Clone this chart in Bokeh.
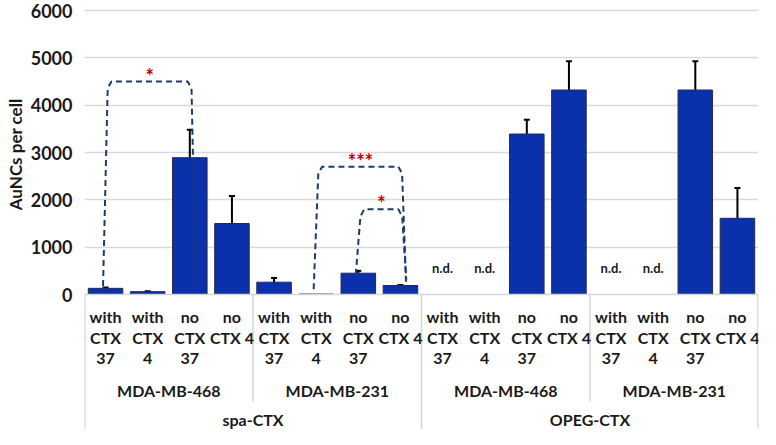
from bokeh.plotting import figure
from bokeh.models import ColumnDataSource, FixedTicker, Whisker, TeeHead, Range1d, Title
from bokeh.core.properties import value
from bokeh.embed import file_html
from bokeh.resources import INLINE

# ---------------- data ----------------
groups = ["spa-CTX", "OPEG-CTX"]
cell_lines = ["MDA-MB-468", "MDA-MB-231"]
conditions = [["with", "CTX", "37"], ["with", "CTX", "4"], ["no", "CTX", "37"], ["no", "CTX 4"]]

# AuNCs per cell, order: group > cell line > condition (None = n.d.)
means = [130, 60, 2890, 1500,
         260, 10, 450, 190,
         None, None, 3390, 4320,
         None, None, 4320, 1610]
errors = [20, 10, 590, 580,
          90, 0, 50, 10,
          None, None, 300, 610,
          None, None, 610, 640]

y_ticks = [0, 1000, 2000, 3000, 4000, 5000, 6000]

# significance brackets: (bar a, bar b, top height, bottom left, bottom right, label)
brackets = [(0, 2, 4500, 180, 200, "*"),
            (5, 7, 2700, 110, 60, "***"),
            (6, 7, 1800, 416, 313, "*")]

# ---------------- layout ----------------
W, H = 760, 429
n = len(means)
px_6000 = 10             # px below frame top of the 6000 line
px_zero = 294            # px below frame top of the 0 line
scale = (px_zero - px_6000) / 6000.0   # px per unit
y_max = 6000 + px_6000 / scale
y_min = -(H - px_zero) / scale

def below(px):
    return -px / scale

FONT = value("Lato")
TXT = "#1a1a1a"
BAR = "#0A30AC"
GRID = "#d9d9d9"
TABLE = "#cfd6dc"
NAVY = "#1F3A6E"
RED = "#C00000"

p = figure(width=W, height=H, output_backend="svg", toolbar_location=None,
           x_range=Range1d(0, n), y_range=Range1d(y_min, y_max),
           x_axis_location=None, min_border_left=10, min_border_right=2,
           min_border_top=0, min_border_bottom=0)
p.outline_line_color = None
p.xgrid.visible = False
p.ygrid.ticker = FixedTicker(ticks=y_ticks[1:])
p.ygrid.grid_line_color = GRID
p.ygrid.grid_line_width = 1.5

ya = p.yaxis[0]
ya.ticker = FixedTicker(ticks=y_ticks)
ya.axis_line_color = None
ya.major_tick_line_color = None
ya.minor_tick_line_color = None
ya.major_tick_out = 0
ya.major_tick_in = 0
ya.minor_tick_out = 0
ya.minor_tick_in = 0
ya.major_label_text_font = "Lato"
ya.major_label_text_font_style = "bold"
ya.major_label_text_font_size = "18px"
ya.major_label_text_color = TXT
ya.major_label_standoff = 12

# y-axis title, anchored from the top so it sits beside the 0..6000 span
ytitle = Title(text="AuNCs per cell", align="right", offset=98,
               text_font="Lato", text_font_style="bold", text_font_size="17px",
               text_color=TXT, standoff=4)
p.add_layout(ytitle, "left")

# ---------------- bars ----------------
xs = [i + 0.5 for i in range(n)]
bx = [x for x, m in zip(xs, means) if m is not None]
bt = [m for m in means if m is not None]
src = ColumnDataSource(dict(x=bx, top=bt))
p.vbar(x="x", top="top", bottom=0, width=0.82, source=src,
       fill_color=BAR, line_color="#2b2b3a", line_width=1)

ex, eu, el = [], [], []
for x, m, e in zip(xs, means, errors):
    if m is not None and e:
        ex.append(x); eu.append(m + e); el.append(m - e)
esrc = ColumnDataSource(dict(x=ex, upper=eu, lower=el))
w = Whisker(base="x", upper="upper", lower="lower", source=esrc,
            line_color="black", line_width=2,
            upper_head=TeeHead(size=6, line_color="black", line_width=2),
            lower_head=TeeHead(size=6, line_color="black", line_width=2))
p.add_layout(w)

# n.d. labels
ndx = [x for x, m in zip(xs, means) if m is None]
p.text(x=ndx, y=[550] * len(ndx), text=["n.d."] * len(ndx), text_font=FONT,
       text_font_style="bold", text_font_size="13px", text_align="center",
       text_baseline="middle", text_color=TXT)

# ---------------- brackets ----------------
for a, b, h, yl, yr, lab in brackets:
    xa, xb = a + 0.5, b + 0.5
    d = 7 / scale
    px_ = [xa - 0.06, xa + 0.05, xa + 0.14, xb - 0.05, xb + 0.04, xb + 0.14]
    py_ = [yl, h - d, h, h, h - d, yr]
    p.line(px_, py_, line_color=NAVY, line_width=2, line_dash="6 4")
    p.text(x=[(xa + xb) / 2 + 0.05], y=[h + 6 / scale], text=[lab], text_font=FONT,
           text_font_style="bold", text_font_size="20px", text_align="center",
           text_baseline="middle", text_color=RED)

# ---------------- category table ----------------
ybot = y_min
p.segment(x0=[0], y0=[0], x1=[n], y1=[0], line_color=TABLE, line_width=1.5)
full_lines = [0.01, n // 2, n - 0.01]
p.segment(x0=full_lines, y0=[0] * 3, x1=full_lines, y1=[ybot] * 3,
          line_color=TABLE, line_width=1.5)
mid_lines = [n // 4, 3 * n // 4]
p.segment(x0=mid_lines, y0=[0] * 2, x1=mid_lines, y1=[below(107)] * 2,
          line_color=TABLE, line_width=1.5)

row_px = [22, 43, 64]
tx, ty, tt = [], [], []
for i in range(n):
    cond = conditions[i % 4]
    for k, line in enumerate(cond):
        tx.append(i + 0.5); ty.append(below(row_px[k])); tt.append(line)
p.text(x=tx, y=ty, text=tt, text_font=FONT, text_font_style="bold",
       text_font_size="16px", text_align="center", text_baseline="middle",
       text_color=TXT)

cx = [j * 4 + 2 for j in range(4)]
cl = [cell_lines[j % 2] for j in range(4)]
p.text(x=cx, y=[below(96)] * 4, text=cl, text_font=FONT, text_font_style="bold",
       text_font_size="16px", text_align="center", text_baseline="middle",
       text_color=TXT)

gx = [j * 8 + 4 for j in range(2)]
p.text(x=gx, y=[below(125)] * 2, text=groups, text_font=FONT, text_font_style="bold",
       text_font_size="16px", text_align="center", text_baseline="middle",
       text_color=TXT)

open("out.html", "w").write(file_html(p, INLINE))
